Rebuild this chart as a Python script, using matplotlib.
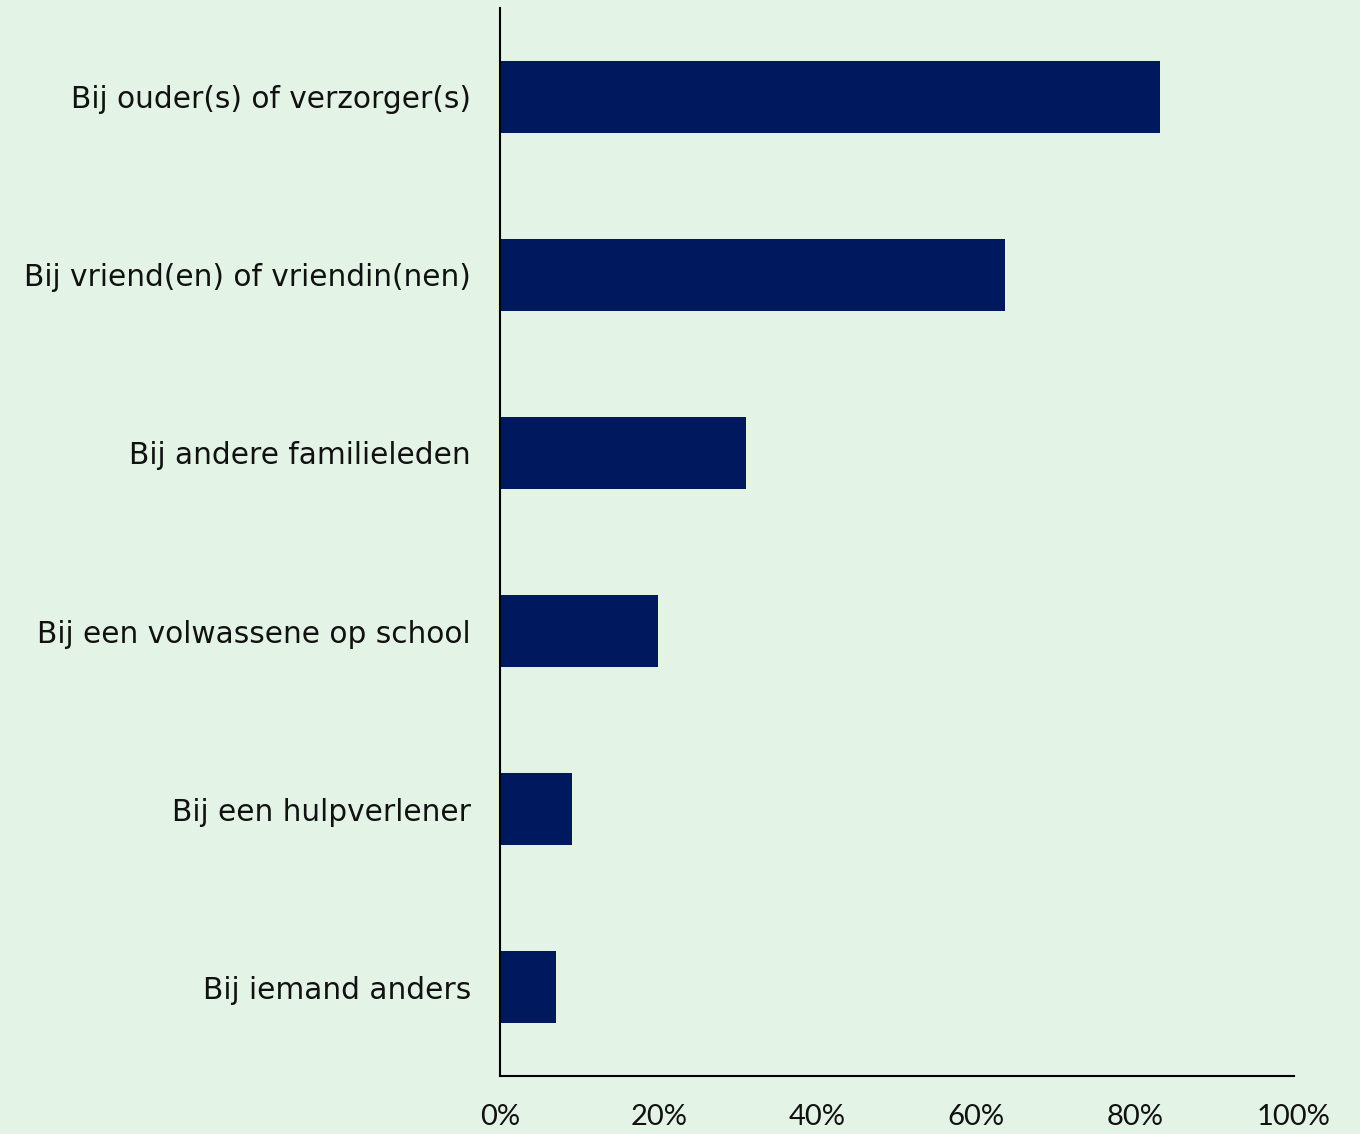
import matplotlib.pyplot as plt
from matplotlib.ticker import PercentFormatter

categories = [
    "Bij ouder(s) of verzorger(s)",
    "Bij vriend(en) of vriendin(nen)",
    "Bij andere familieleden",
    "Bij een volwassene op school",
    "Bij een hulpverlener",
    "Bij iemand anders",
]
values = [83.1, 63.6, 31.0, 19.9, 9.1, 7.1]
xticks = [0, 20, 40, 60, 80, 100]

bg = "#E3F3E5"
bar_color = "#00185E"

fig = plt.figure(figsize=(13.6, 11.34), dpi=100, facecolor=bg)
ax = fig.add_axes([0.3676, 0.0511, 0.5839, 0.9419], facecolor=bg)

ypos = list(range(len(categories)))
ax.barh(ypos, values, height=0.4, color=bar_color)
ax.set_yticks(ypos)
ax.set_yticklabels(categories)
ax.set_ylim(len(categories) - 0.5, -0.5)
ax.set_xlim(0, 100)
ax.set_xticks(xticks)
ax.xaxis.set_major_formatter(PercentFormatter(decimals=0))

for s in ["top", "right"]:
    ax.spines[s].set_visible(False)
for s in ["left", "bottom"]:
    ax.spines[s].set_linewidth(1.5)
    ax.spines[s].set_color("black")

ax.tick_params(axis="y", length=0, pad=21, labelsize=21.3)
ax.tick_params(axis="x", length=0, pad=20, labelsize=21)
for lab in ax.get_yticklabels():
    lab.set_family("DejaVu Sans")
    lab.set_color("#111111")
    lab.set_y(lab.get_position()[1])
for lab in ax.get_xticklabels():
    lab.set_family("Lato")
    lab.set_color("#111111")

fig.savefig("out.png", dpi=100, facecolor=bg)
